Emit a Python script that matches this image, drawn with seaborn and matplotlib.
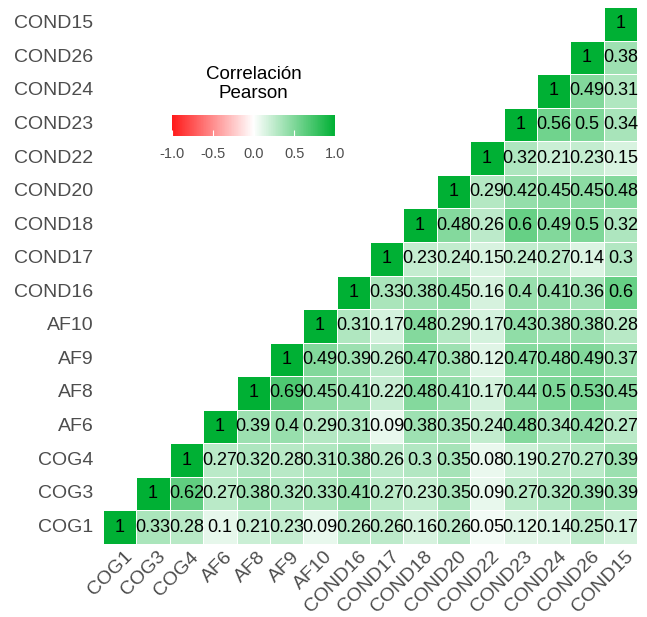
import numpy as np
import pandas as pd
import matplotlib.pyplot as plt
import matplotlib.transforms as mtransforms
import seaborn as sns
from matplotlib.colors import LinearSegmentedColormap

# variables, de abajo hacia arriba / de izquierda a derecha
variables = ["COG1", "COG3", "COG4", "AF6", "AF8", "AF9", "AF10", "COND16",
             "COND17", "COND18", "COND20", "COND22", "COND23", "COND24",
             "COND26", "COND15"]

# correlaciones de cada variable con las siguientes (triángulo superior)
r_cog1 = [0.33, 0.28, 0.1, 0.21, 0.23, 0.09, 0.26, 0.26, 0.16, 0.26, 0.05, 0.12, 0.14, 0.25, 0.17]
r_cog3 = [0.62, 0.27, 0.38, 0.32, 0.33, 0.41, 0.27, 0.23, 0.35, 0.09, 0.27, 0.32, 0.39, 0.39]
r_cog4 = [0.27, 0.32, 0.28, 0.31, 0.38, 0.26, 0.3, 0.35, 0.08, 0.19, 0.27, 0.27, 0.39]
r_af6 = [0.39, 0.4, 0.29, 0.31, 0.09, 0.38, 0.35, 0.24, 0.48, 0.34, 0.42, 0.27]
r_af8 = [0.69, 0.45, 0.41, 0.22, 0.48, 0.41, 0.17, 0.44, 0.5, 0.53, 0.45]
r_af9 = [0.49, 0.39, 0.26, 0.47, 0.38, 0.12, 0.47, 0.48, 0.49, 0.37]
r_af10 = [0.31, 0.17, 0.48, 0.29, 0.17, 0.43, 0.38, 0.38, 0.28]
r_cond16 = [0.33, 0.38, 0.45, 0.16, 0.4, 0.41, 0.36, 0.6]
r_cond17 = [0.23, 0.24, 0.15, 0.24, 0.27, 0.14, 0.3]
r_cond18 = [0.48, 0.26, 0.6, 0.49, 0.5, 0.32]
r_cond20 = [0.29, 0.42, 0.45, 0.45, 0.48]
r_cond22 = [0.32, 0.21, 0.23, 0.15]
r_cond23 = [0.56, 0.5, 0.34]
r_cond24 = [0.49, 0.31]
r_cond26 = [0.38]
r_cond15 = []

filas = [r_cog1, r_cog3, r_cog4, r_af6, r_af8, r_af9, r_af10, r_cond16,
         r_cond17, r_cond18, r_cond20, r_cond22, r_cond23, r_cond24,
         r_cond26, r_cond15]

n = len(variables)
mat = np.full((n, n), np.nan)
for i, fila in enumerate(filas):
    mat[i, i] = 1.0
    for k, v in enumerate(fila):
        mat[i, i + 1 + k] = v

# filas de arriba hacia abajo para el heatmap
df = pd.DataFrame(mat[::-1], index=variables[::-1], columns=variables)
mask = df.isna()
annot = df.map(lambda v: "" if np.isnan(v) else f"{v:g}")

cmap = LinearSegmentedColormap.from_list("rwg", ["#FF1A1A", "#FFFFFF", "#00B034"])

fig = plt.figure(figsize=(6.47, 6.17), dpi=100)
ax = fig.add_axes([103 / 647, 1 - 544 / 617, 534 / 647, 537 / 617])
cax = fig.add_axes([172 / 647, 1 - 136 / 617, 163 / 647, 21 / 617])

sns.heatmap(df, mask=mask, cmap=cmap, vmin=-1, vmax=1, annot=annot, fmt="",
            annot_kws={"size": 13, "color": "black", "family": "Liberation Sans"},
            linewidths=0.6, linecolor="white", square=False, ax=ax, cbar_ax=cax,
            cbar_kws={"orientation": "horizontal", "ticks": [-1, -0.5, 0, 0.5, 1]})

gris = "#4D4D4D"
ax.tick_params(length=0)
ax.set_yticklabels(ax.get_yticklabels(), rotation=0, color=gris, fontsize=14,
                   family="Liberation Sans")
ax.tick_params(axis="y", pad=7)
ax.set_xticklabels(ax.get_xticklabels(), rotation=45, ha="right", va="top",
                   rotation_mode="anchor", color=gris, fontsize=14,
                   family="Liberation Sans")
ax.tick_params(axis="x", pad=3)
desplaza = mtransforms.ScaledTranslation(4 / 100, 0, fig.dpi_scale_trans)
for lab in ax.get_xticklabels():
    lab.set_transform(lab.get_transform() + desplaza)
ax.set_xlabel("")
ax.set_ylabel("")

cax.set_xticklabels(["-1.0", "-0.5", "0.0", "0.5", "1.0"], color=gris,
                    fontsize=10.5, family="Liberation Sans")
cax.tick_params(axis="x", direction="in", color="white", length=4, pad=8)
for s in cax.spines.values():
    s.set_visible(False)
cax.set_title("Correlación\nPearson", fontsize=13.5, family="Liberation Sans",
              color="black", pad=12, linespacing=1.15)

fig.savefig("out.png", dpi=100)
